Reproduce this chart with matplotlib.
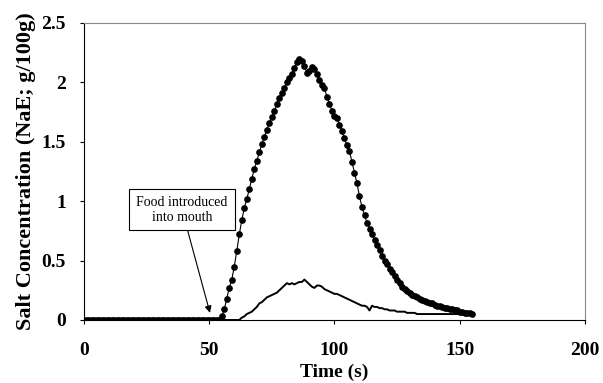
import matplotlib.pyplot as plt

# Serie com pontos (amostras a cada 1 s)
t_dots = list(range(0, 156))
salt_dots = [0.0] * 55 + [
    0.03, 0.09, 0.18, 0.27, 0.34, 0.45, 0.58, 0.72, 0.84, 0.94,
    1.02, 1.10, 1.19, 1.27, 1.34, 1.41, 1.48, 1.54, 1.60, 1.66,
    1.71, 1.76, 1.82, 1.87, 1.91, 1.95, 2.00, 2.04, 2.07, 2.12,
    2.17, 2.20, 2.18, 2.14, 2.08, 2.10, 2.13, 2.11, 2.07, 2.02,
    1.98, 1.95, 1.88, 1.82, 1.76, 1.72, 1.70, 1.64, 1.59, 1.53,
    1.47, 1.42, 1.33, 1.24, 1.15, 1.04, 0.95, 0.88, 0.82, 0.77,
    0.72, 0.67, 0.63, 0.59, 0.54, 0.50, 0.47, 0.43, 0.40, 0.37,
    0.34, 0.31, 0.28, 0.26, 0.24, 0.23, 0.21, 0.20, 0.19, 0.18,
    0.17, 0.16, 0.15, 0.14, 0.14, 0.13, 0.12, 0.12, 0.11, 0.10,
    0.10, 0.09, 0.09, 0.08, 0.08, 0.07, 0.07, 0.06, 0.06, 0.06,
    0.05,
]

# Serie em linha continua
t_line = list(range(0, 156))
salt_line = [0.0] * 63 + [
    0.02, 0.03, 0.05, 0.06, 0.07, 0.09, 0.11, 0.14, 0.15, 0.17,
    0.19, 0.20, 0.21, 0.22, 0.23, 0.25, 0.27, 0.29, 0.31, 0.30,
    0.31, 0.30, 0.31, 0.32, 0.32, 0.34, 0.32, 0.30, 0.28, 0.27,
    0.29, 0.29, 0.28, 0.26, 0.25, 0.24, 0.23, 0.22, 0.22, 0.21,
    0.20, 0.19, 0.18, 0.17, 0.16, 0.15, 0.14, 0.13, 0.12, 0.12,
    0.11, 0.08, 0.12, 0.11, 0.11, 0.10, 0.10, 0.09, 0.09, 0.08,
    0.08, 0.08, 0.07, 0.07, 0.07, 0.07, 0.06, 0.06, 0.06, 0.06,
    0.05, 0.05, 0.05, 0.05, 0.05, 0.05, 0.05, 0.05, 0.05, 0.05,
    0.05, 0.05, 0.05, 0.05, 0.05, 0.05, 0.05, 0.05, 0.05, 0.05,
    0.05, 0.05, 0.05,
]

x_ticks = [0, 50, 100, 150, 200]
y_ticks = [0, 0.5, 1, 1.5, 2, 2.5]
y_tick_labels = ['0', '0.5', '1', '1.5', '2', '2.5']

plt.rcParams['font.family'] = 'Liberation Serif'

fig = plt.figure(figsize=(6.03, 3.83), dpi=100)
ax = fig.add_axes([0.1393, 0.1645, 0.8307, 0.7755])

ax.plot(t_line, salt_line, color='black', linewidth=1.4)
ax.plot(t_dots, salt_dots, color='black', linewidth=0.8,
        marker='o', markersize=3.8)

ax.set_xlim(0, 200)
ax.set_ylim(0, 2.5)
ax.set_xticks(x_ticks)
ax.set_yticks(y_ticks)
ax.set_yticklabels(y_tick_labels)
ax.tick_params(direction='out', length=3, labelsize=14)
ax.tick_params(axis='x', pad=13)
ax.tick_params(axis='y', pad=10)
for lab in ax.get_xticklabels() + ax.get_yticklabels():
    lab.set_fontweight('bold')

ax.set_xlabel('Time (s)', fontsize=14, fontweight='bold', labelpad=3)
ax.set_ylabel('Salt Concentration (NaE; g/100g)', fontsize=16,
              fontweight='bold', labelpad=4)

ax.spines['top'].set_color('#888888')
ax.spines['right'].set_color('#888888')
ax.spines['top'].set_linewidth(0.8)
ax.spines['right'].set_linewidth(0.8)

# Anotacao
ax.annotate('Food introduced\ninto mouth', xy=(50.3, 0.06), xytext=(39.1, 0.93),
            ha='center', va='center', fontsize=10,
            bbox=dict(boxstyle='square,pad=0.5', fc='white', ec='black', lw=0.8),
            arrowprops=dict(arrowstyle='-|>', color='black', lw=0.8,
                            shrinkA=0, shrinkB=0, mutation_scale=10))

plt.savefig('out.png', dpi=100)
